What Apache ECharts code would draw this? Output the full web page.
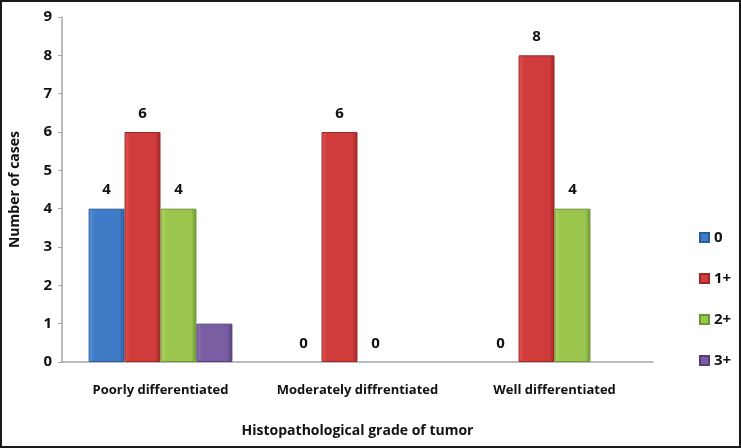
<!DOCTYPE html>
<html><head><meta charset="utf-8">
<script src="https://cdn.jsdelivr.net/npm/echarts@6/dist/echarts.min.js"></script>
<style>html,body{margin:0;padding:0;background:#fff}#c{width:741px;height:448px}</style>
</head><body><div id="c"></div>
<script>
const categories = ['Poorly differentiated', 'Moderately diffrentiated', 'Well differentiated'];
const seriesNames = ['0', '1+', '2+', '3+'];
const s0 = [4, 0, 0];
const s1 = [6, 6, 8];
const s2 = [4, 0, 4];
const s3 = [1, 0, 0];
const yTicks = [0, 1, 2, 3, 4, 5, 6, 7, 8, 9];

const palette = [
  ['#5b95dc', '#3f7bc6', '#2c5d9b'],
  ['#e25555', '#d03c3c', '#9e2727'],
  ['#b1d766', '#9bc64d', '#6f9534'],
  ['#9177b5', '#7a5ea3', '#553f78']
];
function grad(p) {
  return new echarts.graphic.LinearGradient(0, 0, 1, 0, [
    {offset: 0, color: p[0]}, {offset: 0.15, color: p[1]},
    {offset: 0.85, color: p[1]}, {offset: 1, color: p[2]}
  ]);
}
const values = [s0, s1, s2, s3];
const font = '"Open Sans", "Noto Sans", sans-serif';
const series = values.map((v, i) => ({
  name: seriesNames[i], type: 'bar',
  data: v.map(x => x === 0 ? {value: x, itemStyle: {borderWidth: 0}} : x),
  barGap: '0%', barCategoryGap: '27%',
  itemStyle: {color: grad(palette[i]), borderColor: palette[i][2], borderWidth: 1},
  label: {show: i !== 3, position: 'top', distance: 11, fontFamily: font, fontWeight: 'bold', fontSize: 15, color: '#111'}
}));

const chart = echarts.init(document.getElementById('c'));
chart.setOption({
  animation: false,
  color: palette.map(p => p[1]),
  graphic: [{type: 'rect', shape: {x: 1, y: 1, width: 739, height: 446}, style: {fill: 'none', stroke: '#1a1a1a', lineWidth: 2}, z: 100}],
  grid: {left: 62, right: 88, top: 17, bottom: 86},
  legend: {
    orient: 'vertical', left: 694, top: 225, itemWidth: 9, itemHeight: 9, itemGap: 26,
    icon: 'rect', data: seriesNames,
    textStyle: {fontFamily: font, fontWeight: 'bold', fontSize: 15, color: '#111'}
  },
  xAxis: {
    type: 'category', data: categories,
    name: 'Histopathological grade of tumor', nameLocation: 'middle', nameGap: 62,
    nameTextStyle: {fontFamily: font, fontWeight: 'bold', fontSize: 14, color: '#111'},
    axisLine: {lineStyle: {color: '#a6a6a6', width: 1.5}},
    axisTick: {show: false},
    axisLabel: {interval: 0, margin: 22, fontFamily: font, fontSize: 13, fontWeight: 'bold', color: '#111'}
  },
  yAxis: {
    type: 'value', min: yTicks[0], max: yTicks[yTicks.length - 1], interval: 1,
    name: 'Number of cases', nameLocation: 'middle', nameGap: 40,
    nameTextStyle: {fontFamily: font, fontWeight: 'bold', fontSize: 14, color: '#111'},
    axisLine: {show: true, lineStyle: {color: '#a6a6a6', width: 1.5}},
    axisTick: {show: true, length: 4, lineStyle: {color: '#a6a6a6'}},
    splitLine: {show: false},
    axisLabel: {margin: 10, fontFamily: font, fontWeight: 'bold', fontSize: 15, color: '#111'}
  },
  series: series
});
</script></body></html>
